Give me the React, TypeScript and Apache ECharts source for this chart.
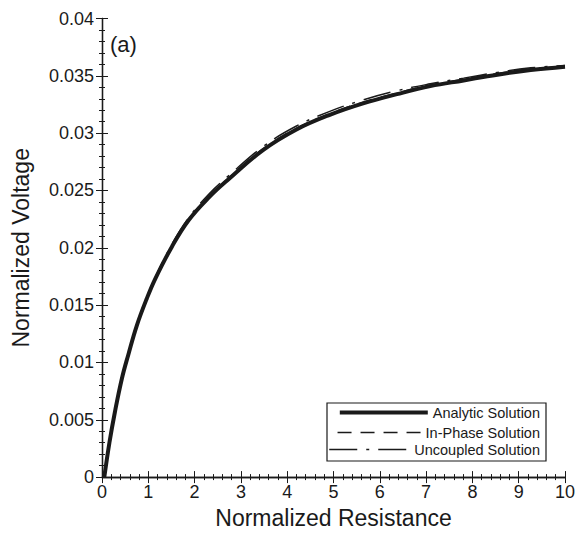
import React, { useEffect, useRef } from "react";
import * as echarts from "echarts";

const resistance = [0.05, 0.16, 0.28, 0.43, 0.57, 0.75, 0.97, 1.15, 1.51, 1.87, 2.31, 2.74, 3.47, 4.19, 4.92, 5.64, 6.37, 7.09, 7.81, 8.54, 9.26, 10];
const analytic = [0, 0.003, 0.0057, 0.0086, 0.0107, 0.0132, 0.0156, 0.0173, 0.0201, 0.0224, 0.0244, 0.026, 0.0285, 0.0303, 0.0316, 0.0326, 0.0334, 0.0341, 0.0346, 0.0351, 0.0355, 0.0358];
const inPhase = [0, 0.003, 0.0057, 0.0086, 0.0107, 0.0132, 0.0156, 0.0173, 0.0202, 0.0225, 0.0245, 0.0261, 0.0286, 0.0304, 0.0317, 0.0327, 0.0335, 0.0342, 0.0347, 0.0352, 0.0356, 0.0358];
const uncoupled = [0, 0.003, 0.0057, 0.0086, 0.0107, 0.0132, 0.0156, 0.0174, 0.0203, 0.0226, 0.0247, 0.0263, 0.0288, 0.0306, 0.0319, 0.0329, 0.0337, 0.0343, 0.0348, 0.0353, 0.0357, 0.0359];

const seriesNames = ["Analytic Solution", "In-Phase Solution", "Uncoupled Solution"];
const xTicks = { min: 0, max: 10, interval: 1 };
const yTicks = { min: 0, max: 0.04, interval: 0.005 };

const FONT = "'Liberation Sans', Arial, Helvetica, sans-serif";
const INK = "#1a1a1a";

const pairs = (ys: number[]) => resistance.map((x, i) => [x, ys[i]]);

export default function App() {
  const ref = useRef<HTMLDivElement>(null);
  useEffect(() => {
    if (!ref.current) return;
    const chart = echarts.init(ref.current, null, { renderer: "svg" });
    const axisCommon = {
      axisLine: { show: true, lineStyle: { color: INK, width: 1.3 } },
      axisTick: { show: true, inside: true, length: 6, lineStyle: { color: INK, width: 1 } },
      minorTick: { show: true, splitNumber: 5, length: 3, lineStyle: { color: INK, width: 1 } },
      splitLine: { show: false },
      minorSplitLine: { show: false },
    };
    const dashDot = [28, 9, 3, 9];
    const dashed = [14, 9];
    const legendBase = {
      right: 39,
      padding: 0,
      itemHeight: 14,
      itemGap: 0,
      textStyle: { fontFamily: FONT, fontSize: 14.5, color: INK },
      itemStyle: { opacity: 0 },
      selectedMode: false,
    };
    chart.setOption({
      animation: false,
      backgroundColor: "#ffffff",
      grid: { left: 102, right: 14, top: 18.5, bottom: 50, containLabel: false },
      xAxis: [
        {
          type: "value",
          ...xTicks,
          ...axisCommon,
          name: "Normalized Resistance",
          nameLocation: "middle",
          nameGap: 24,
          nameTextStyle: { fontFamily: FONT, fontSize: 23, color: INK },
          axisLabel: { margin: 6, fontFamily: FONT, fontSize: 18, color: INK },
        },
        {
          type: "value",
          position: "top",
          ...xTicks,
          ...axisCommon,
          axisLabel: { show: false },
        },
      ],
      yAxis: [
        {
          type: "value",
          ...yTicks,
          ...axisCommon,
          name: "Normalized Voltage",
          nameLocation: "middle",
          nameGap: 70,
          nameTextStyle: { fontFamily: FONT, fontSize: 23, color: INK },
          axisLabel: { margin: 8, fontFamily: FONT, fontSize: 18, color: INK },
        },
        {
          type: "value",
          position: "right",
          ...yTicks,
          ...axisCommon,
          axisLabel: { show: false },
        },
      ],
      legend: [
        {
          ...legendBase,
          data: [seriesNames[0]],
          top: 405,
          itemWidth: 88,
          lineStyle: { width: 4, type: "solid", color: INK },
        },
        {
          ...legendBase,
          data: [seriesNames[1]],
          top: 425,
          itemWidth: 83,
          lineStyle: { width: 1.5, type: dashed, color: INK },
        },
        {
          ...legendBase,
          data: [seriesNames[2]],
          top: 442,
          itemWidth: 80,
          lineStyle: { width: 1.5, type: dashDot, color: INK },
        },
      ],
      graphic: [
        {
          type: "rect",
          shape: { x: 327, y: 403, width: 219, height: 58 },
          style: { fill: "#ffffff", stroke: INK, lineWidth: 1.2 },
          z: 0,
          silent: true,
        },
        {
          type: "text",
          x: 110,
          y: 44,
          style: { text: "(a)", fontFamily: FONT, fontSize: 22, fill: INK, verticalAlign: "middle" },
          silent: true,
        },
      ],
      series: [
        {
          name: seriesNames[0],
          type: "line",
          data: pairs(analytic),
          symbol: "none",
          smooth: 0.4,
          lineStyle: { color: INK, width: 4, type: "solid" },
          itemStyle: { color: INK },
          z: 2,
        },
        {
          name: seriesNames[1],
          type: "line",
          data: pairs(inPhase),
          symbol: "none",
          smooth: 0.4,
          lineStyle: { color: INK, width: 1.5, type: dashed },
          itemStyle: { color: INK },
          z: 3,
        },
        {
          name: seriesNames[2],
          type: "line",
          data: pairs(uncoupled),
          symbol: "none",
          smooth: 0.4,
          lineStyle: { color: INK, width: 1.5, type: dashDot },
          itemStyle: { color: INK },
          z: 4,
        },
      ],
    });
    return () => chart.dispose();
  }, []);
  return <div ref={ref} style={{ width: 579, height: 534, position: "absolute", left: 0, top: 0 }} />;
}
